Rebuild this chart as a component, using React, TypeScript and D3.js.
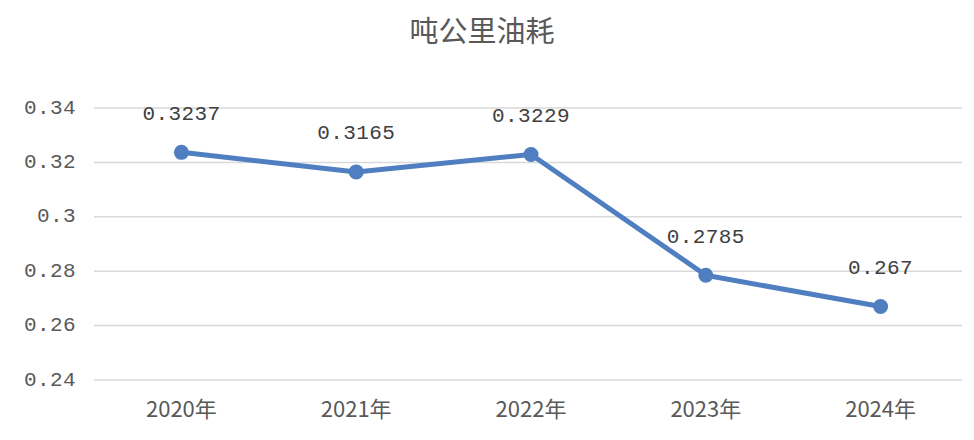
import React from "react";
import * as d3 from "d3";

const categories = ["2020年", "2021年", "2022年", "2023年", "2024年"];
const values = [0.3237, 0.3165, 0.3229, 0.2785, 0.267];
const valueLabels = ["0.3237", "0.3165", "0.3229", "0.2785", "0.267"];
const yTicks = [0.24, 0.26, 0.28, 0.3, 0.32, 0.34];
const yTickLabels = ["0.24", "0.26", "0.28", "0.3", "0.32", "0.34"];
const title = "吨公里油耗";

const W = 974;
const H = 440;
const left = 94;
const right = 968;
const top = 108;
const bottom = 380;

export default function App() {
  const x = d3.scaleBand<string>().domain(categories).range([left, right]);
  const y = d3.scaleLinear().domain([0.24, 0.34]).range([bottom, top]);
  const cx = (c: string) => (x(c) as number) + x.bandwidth() / 2;
  const line = d3
    .line<number>()
    .x((_, i) => cx(categories[i]))
    .y((d) => y(d));
  const textColor = "#595959";
  const mono = "'Liberation Mono', 'DejaVu Sans Mono', monospace";
  const cjk = "'Noto Sans CJK SC', sans-serif";
  return (
    <svg
      width={W}
      height={H}
      style={{ position: "absolute", left: 0, top: 0, background: "#fff" }}
    >
      <rect width={W} height={H} fill="#fff" />
      <text
        x={482}
        y={34}
        textAnchor="middle"
        dominantBaseline="middle"
        fontFamily={cjk}
        fontSize={29}
        fill={textColor}
      >
        {title}
      </text>
      {yTicks.map((t, i) => (
        <g key={t}>
          <line x1={left} x2={right - 6} y1={y(t)} y2={y(t)} stroke="#d9d9d9" strokeWidth={1.5} />
          <text
            x={76}
            y={y(t)}
            textAnchor="end"
            dominantBaseline="middle"
            fontFamily={mono}
            fontSize={21}
            letterSpacing={0.4}
            fill={textColor}
          >
            {yTickLabels[i]}
          </text>
        </g>
      ))}
      {categories.map((c) => (
        <text
          key={c}
          x={cx(c)}
          y={411}
          textAnchor="middle"
          dominantBaseline="middle"
          fontFamily={cjk}
          fontSize={22}
          fill={textColor}
        >
          {c}
        </text>
      ))}
      <path
        d={line(values) || ""}
        fill="none"
        stroke="#4f7fc0"
        strokeWidth={5}
        strokeLinejoin="round"
      />
      {values.map((v, i) => (
        <circle key={i} cx={cx(categories[i])} cy={y(v)} r={7.5} fill="#4f7fc0" />
      ))}
      {values.map((v, i) => (
        <text
          key={"l" + i}
          x={cx(categories[i])}
          y={y(v) - 38}
          textAnchor="middle"
          dominantBaseline="middle"
          fontFamily={mono}
          fontSize={21}
          letterSpacing={0.4}
          fill="#404040"
        >
          {valueLabels[i]}
        </text>
      ))}
    </svg>
  );
}
